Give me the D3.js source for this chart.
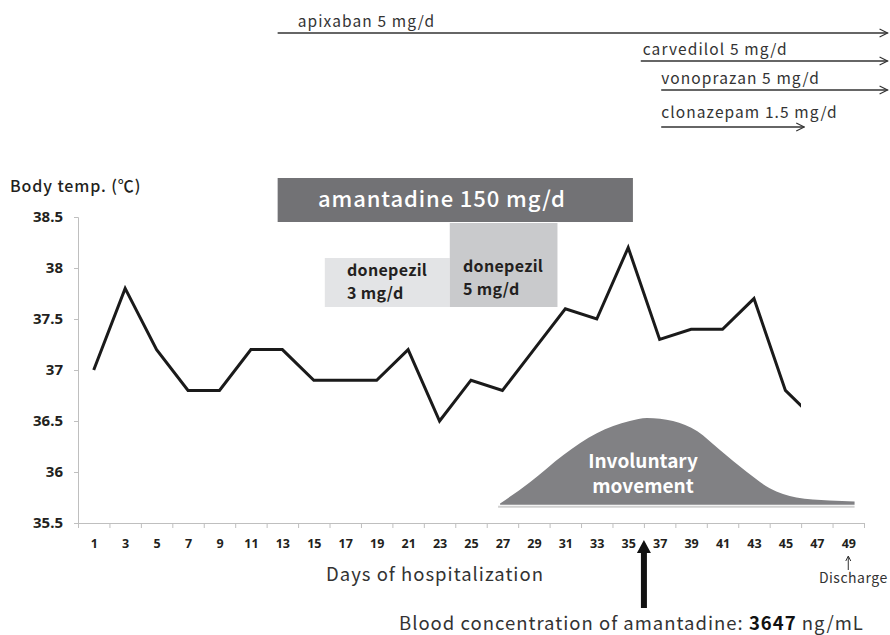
<!DOCTYPE html>
<html>
<head>
<meta charset="utf-8">
<script src="https://cdn.jsdelivr.net/npm/d3@7"></script>
<style>
  body { margin: 0; background: #fff; }
  text { font-family: "Noto Sans CJK JP", "Noto Sans", sans-serif; }
</style>
</head>
<body>
<div id="chart"></div>
<script>
// body temperature, measured every other day
const days = [1, 3, 5, 7, 9, 11, 13, 15, 17, 19, 21, 23, 25, 27, 29, 31, 33, 35, 37, 39, 41, 43, 45, 47];
const temps = [37.0, 37.8, 37.2, 36.8, 36.8, 37.2, 37.2, 36.9, 36.9, 36.9, 37.2, 36.5,
               36.9, 36.8, 37.2, 37.6, 37.5, 38.2, 37.3, 37.4, 37.4, 37.7, 36.8, 36.5];
const dayLabels = d3.range(1, 50, 2);
const yTicks = [35.5, 36, 36.5, 37, 37.5, 38, 38.5];

// drugs started during the stay (day from / day to)
const drugNames = ["apixaban 5 mg/d", "carvedilol 5 mg/d", "vonoprazan 5 mg/d", "clonazepam 1.5 mg/d"];
const drugStart = [12.7, 35.8, 37.1, 37.1];
const drugEnd = [51.5, 51.5, 51.5, 46.2];

// involuntary movement intensity (drawn in temperature units)
const moveDays = [26.85, 28.75, 30.9, 33.0, 35.1, 36.2, 37.85, 39.4, 40.8, 42.55, 44.0, 45.7, 47.8, 49.4];
const moveLevel = [35.69, 35.90, 36.17, 36.38, 36.50, 36.53, 36.50, 36.40, 36.22, 36.00, 35.84, 35.75, 35.72, 35.71];
const moveBase = 35.68;

const bloodDay = 36;
const dischargeDay = 49;

let width = 890, height = 635;

const svg = d3.select("#chart")
    .append("svg")
    .attr("width", width)
    .attr("height", height);

let x = d3.scaleLinear().domain([0, 50]).range([78, 864]);
let y = d3.scaleLinear().domain([35.5, 38.5]).range([523, 217]);

// arrowhead marker
svg.append("defs").append("marker")
    .attr("id", "chev")
    .attr("viewBox", "0 0 10 10")
    .attr("refX", 9).attr("refY", 5)
    .attr("markerWidth", 10).attr("markerHeight", 10)
    .attr("markerUnits", "userSpaceOnUse")
    .attr("orient", "auto")
    .append("path")
    .attr("d", "M1,1 L9,5 L1,9")
    .attr("fill", "none")
    .attr("stroke", "#333")
    .attr("stroke-width", 1.2);

// drug arrows at top
const laneY = [33, 61, 90, 127];
const labelShift = [20, 2, 0, 0];
const drugs = svg.append("g");
drugNames.forEach((name, i) => {
    drugs.append("line")
        .attr("x1", x(drugStart[i]))
        .attr("x2", Math.min(x(drugEnd[i]), 888))
        .attr("y1", laneY[i]).attr("y2", laneY[i])
        .attr("stroke", "#333")
        .attr("stroke-width", 1.3)
        .attr("marker-end", "url(#chev)");
    drugs.append("text")
        .attr("x", x(drugStart[i]) + labelShift[i])
        .attr("y", laneY[i] - (i == 3 ? 9 : 6))
        .style("font-size", "15.5px")
        .style("letter-spacing", "1.1px")
        .style("fill", "#333")
        .text(name);
});

// treatment boxes
svg.append("rect")
    .attr("x", x(12.7)).attr("width", x(35.3) - x(12.7))
    .attr("y", 178).attr("height", 44)
    .attr("fill", "#727275");
svg.append("text")
    .attr("x", 318).attr("y", 207)
    .style("font-size", "22px")
    .style("letter-spacing", "0.9px")
    .style("font-weight", 500)
    .style("fill", "#fff")
    .text("amantadine 150 mg/d");

svg.append("rect")
    .attr("x", x(15.7)).attr("width", x(23.65) - x(15.7))
    .attr("y", 258).attr("height", 49)
    .attr("fill", "#e3e4e6");
svg.append("rect")
    .attr("x", x(23.65)).attr("width", x(30.5) - x(23.65))
    .attr("y", 223).attr("height", 84)
    .attr("fill", "#c9cacc");

const donepezil = [
    { x: 347, lines: ["donepezil", "3 mg/d"], y: [276, 299] },
    { x: 463, lines: ["donepezil", "5 mg/d"], y: [272, 295] },
];
donepezil.forEach((d) => {
    d.lines.forEach((t, j) => {
        svg.append("text")
            .attr("x", d.x).attr("y", d.y[j])
            .style("font-size", "16px")
            .style("letter-spacing", "0.3px")
            .style("font-weight", 700)
            .style("fill", "#231f20")
            .text(t);
    });
});

// involuntary movement hump
const area = d3.area()
    .x((d, i) => x(moveDays[i]))
    .y0(y(moveBase))
    .y1((d) => y(d))
    .curve(d3.curveMonotoneX);
svg.append("line")
    .attr("x1", x(moveDays[0]) - 2).attr("x2", x(moveDays[moveDays.length - 1]))
    .attr("y1", y(moveBase) + 2).attr("y2", y(moveBase) + 2)
    .attr("stroke", "#d0d0d0").attr("stroke-width", 2);
svg.append("path")
    .datum(moveLevel)
    .attr("d", area)
    .attr("fill", "#818184");
["Involuntary", "movement"].forEach((t, j) => {
    svg.append("text")
        .attr("x", 643).attr("y", 468 + j * 25)
        .attr("text-anchor", "middle")
        .style("font-size", "19px")
        .style("font-weight", 700)
        .style("fill", "#fff")
        .text(t);
});

// axes
const yAxis = svg.append("g")
    .attr("transform", `translate(${x(0)},0)`)
    .call(d3.axisLeft(y).tickValues(yTicks).tickSize(4).tickPadding(11).tickFormat((d) => d));
yAxis.select(".domain").attr("stroke", "#bfbfbf");
yAxis.selectAll(".tick line").attr("stroke", "#bfbfbf");
yAxis.selectAll("text")
    .style("font-family", "'Noto Sans', sans-serif")
    .style("font-size", "15px")
    .style("font-weight", 700)
    .style("fill", "#231f20");

const xAxis = svg.append("g")
    .attr("transform", `translate(0,${y(35.5)})`)
    .call(d3.axisBottom(x).tickValues(d3.range(0, 51, 2)).tickSize(5).tickSizeOuter(0).tickFormat(""));
xAxis.select(".domain").attr("stroke", "#bfbfbf");
xAxis.selectAll(".tick line").attr("stroke", "#bfbfbf");

const xLabels = svg.append("g")
    .attr("transform", `translate(0,${y(35.5)})`)
    .call(d3.axisBottom(x).tickValues(dayLabels).tickSize(0).tickPadding(16));
xLabels.select(".domain").remove();
xLabels.selectAll("text")
    .style("font-family", "'Open Sans', sans-serif")
    .style("font-size", "12.5px")
    .style("font-weight", 700)
    .style("fill", "#231f20");

svg.append("text")
    .attr("x", 10).attr("y", 192)
    .style("font-size", "16px")
    .style("letter-spacing", "0.9px")
    .style("font-weight", 500)
    .style("fill", "#231f20")
    .text("Body temp. (℃)");

// temperature line, stops halfway to the last reading
svg.append("clipPath").attr("id", "lineclip")
    .append("rect")
    .attr("x", 0).attr("y", 0)
    .attr("width", x((days[days.length - 2] + days[days.length - 1]) / 2))
    .attr("height", height);
const line = d3.line()
    .x((d, i) => x(days[i]))
    .y((d) => y(d));
svg.append("path")
    .datum(temps)
    .attr("d", line)
    .attr("clip-path", "url(#lineclip)")
    .attr("fill", "none")
    .attr("stroke", "#1a1a1a")
    .attr("stroke-width", 3)
    .attr("stroke-linejoin", "miter");

svg.append("text")
    .attr("x", 435).attr("y", 581)
    .attr("text-anchor", "middle")
    .style("font-size", "18.5px")
    .style("letter-spacing", "1px")
    .style("fill", "#333")
    .text("Days of hospitalization");

// discharge marker
const dx = x(dischargeDay);
svg.append("path")
    .attr("d", `M${dx},570 L${dx},557 M${dx - 2.5},561 L${dx},556 L${dx + 2.5},561`)
    .attr("fill", "none")
    .attr("stroke", "#333")
    .attr("stroke-width", 1);
svg.append("text")
    .attr("x", dx + 5).attr("y", 583)
    .attr("text-anchor", "middle")
    .style("font-size", "14px")
    .style("letter-spacing", "0.5px")
    .style("fill", "#333")
    .text("Discharge");

// blood sample arrow
const bx = x(bloodDay);
svg.append("path")
    .attr("d", `M${bx - 3},608 L${bx - 3},553 L${bx - 7},553 L${bx},540 L${bx + 7},553 L${bx + 3},553 L${bx + 3},608 Z`)
    .attr("fill", "#111");

const blood = svg.append("text")
    .attr("x", 399).attr("y", 630)
    .style("font-size", "18.5px")
    .style("letter-spacing", "1px")
    .style("fill", "#333");
blood.append("tspan").text("Blood concentration of amantadine: ");
blood.append("tspan").style("font-weight", 700).style("fill", "#111").text("3647");
blood.append("tspan").text(" ng/mL");
</script>
</body>
</html>
